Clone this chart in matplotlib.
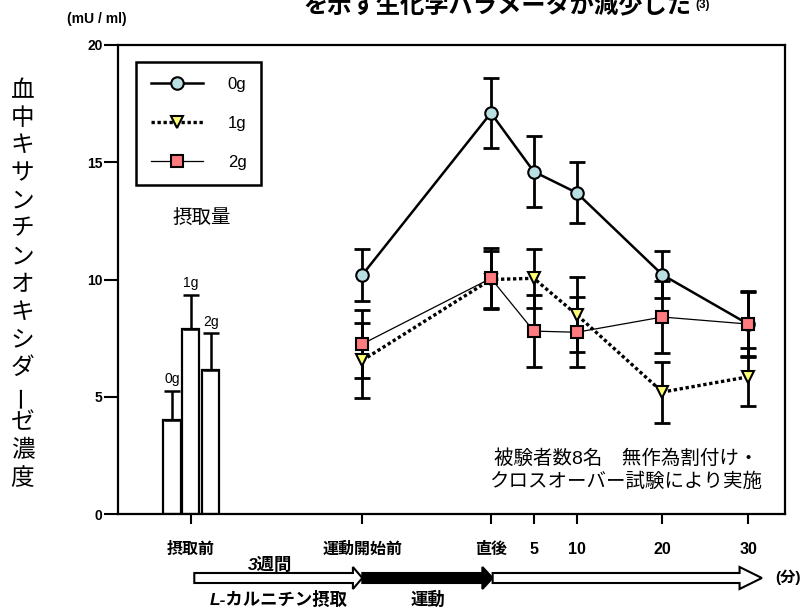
import matplotlib
matplotlib.use('Agg')
import matplotlib.pyplot as plt
import matplotlib.transforms as mtransforms
from matplotlib.lines import Line2D
from matplotlib.patches import Polygon

plt.rcParams['font.family'] = ['Liberation Sans', 'Noto Sans CJK JP', 'DejaVu Sans']

# sampling times (min, exercise ends at 0); -15 = before exercise
times = [-15, 0, 5, 10, 20, 30]
time_labels = ['運動開始前', '直後', '5', '10', '20', '30']

mean_0g = [10.2, 17.1, 14.6, 13.7, 10.2, 8.1]
sd_0g = [1.1, 1.5, 1.5, 1.3, 1.0, 1.4]
mean_1g = [6.55, 10.0, 10.05, 8.5, 5.2, 5.85]
sd_1g = [1.6, 1.2, 1.27, 1.6, 1.3, 1.25]
mean_2g = [7.25, 10.05, 7.8, 7.75, 8.4, 8.1]
sd_2g = [1.45, 1.3, 1.55, 1.5, 1.55, 1.35]

# baseline (before intake) bars
pre_x = -35
pre_label = '摂取前'
bar_labels = ['0g', '1g', '2g']
bar_means = [4.0, 7.9, 6.15]
bar_err = [1.25, 1.45, 1.55]
bar_offsets = [-2.2, 0.0, 2.3]

dose_labels = ['0g', '1g', '2g']

fig = plt.figure(figsize=(8.06, 6.09), dpi=100)
ax = fig.add_axes([118/806, 1-514/609, 667/806, 469/609])

# bars first, then error bars on top (upper half only)
for off, m, e, lab in zip(bar_offsets, bar_means, bar_err, bar_labels):
    ax.bar(pre_x + off, m, width=2.0, color='white', edgecolor='black', linewidth=1.6, zorder=2)
    ax.errorbar(pre_x + off, m, yerr=[[0], [e]], fmt='none', ecolor='black',
                elinewidth=1.8, capsize=6, capthick=1.8, zorder=3)
    ax.text(pre_x + off, m + e + 0.2, lab, ha='center', va='bottom', fontsize=10)

styles = [
    dict(mean=mean_0g, sd=sd_0g, ls='-', lw=1.8, marker='o', mfc='#b9dfe2', ms=9),
    dict(mean=mean_1g, sd=sd_1g, ls=(0, (1, 0.8)), lw=2.4, marker='v', mfc='#ffff73', ms=9),
    dict(mean=mean_2g, sd=sd_2g, ls='-', lw=0.9, marker='s', mfc='#ff7b7f', ms=8.5),
]
handles = []
for st, lab in zip(styles, dose_labels):
    ax.errorbar(times, st['mean'], yerr=st['sd'], fmt='none', ecolor='black',
                elinewidth=2, capsize=6, capthick=2, zorder=3)
    ax.plot(times, st['mean'], color='black', ls=st['ls'], lw=st['lw'], zorder=4)
    ax.plot(times, st['mean'], ls='none', marker=st['marker'], ms=st['ms'],
            mfc=st['mfc'], mec='black', mew=1.5, zorder=5)
    handles.append(Line2D([], [], color='black', ls=st['ls'], lw=st['lw'],
                          marker=st['marker'], ms=st['ms'], mfc=st['mfc'],
                          mec='black', mew=1.5))

ax.set_xlim(-43.5, 34.3)
ax.set_ylim(0, 20)
ax.set_yticks([0, 5, 10, 15, 20])
ax.set_xticks([pre_x] + times)
ax.set_xticklabels([pre_label] + time_labels, fontweight='bold', fontsize=11.5)
for lab in ax.get_yticklabels():
    lab.set_fontweight('bold')
    lab.set_fontsize(10)
ax.tick_params(axis='y', length=10, width=1.5, pad=1)
ax.tick_params(axis='x', length=7, width=1.5, pad=13)
for sp in ax.spines.values():
    sp.set_linewidth(1.6)

leg = ax.legend(handles, dose_labels, loc='upper left', bbox_to_anchor=(0.027, 0.964),
                borderaxespad=0, fontsize=12, handlelength=3.1, handletextpad=1.5,
                labelspacing=1.45, borderpad=0.9, fancybox=False, framealpha=1)
leg.get_frame().set_edgecolor('black')
leg.get_frame().set_linewidth(1.8)
ax.text(0.1255, 0.629, '摂取量', transform=ax.transAxes, ha='center', va='center', fontsize=14)

ax.text(0.966, 0.094, '被験者数8名　無作為割付け・\nクロスオーバー試験により実施',
        transform=ax.transAxes, ha='right', va='center', fontsize=14,
        linespacing=1.3, multialignment='center')

# timeline arrows under the axis: data x, figure-pixel y
tr = mtransforms.blended_transform_factory(ax.transData, fig.transFigure)
def py(p):
    return 1 - p / 609

stages = [(-34.6, -15.0, 1.1, 'white'), (-15.0, 0.2, 1.2, 'black'), (0.2, 31.6, 2.6, 'white')]
for x0, x1, hl, fc in stages:
    pts = [(x0, py(573)), (x1 - hl, py(573)), (x1 - hl, py(567)), (x1, py(578)),
           (x1 - hl, py(589)), (x1 - hl, py(583)), (x0, py(583))]
    ax.add_patch(Polygon(pts, closed=True, transform=tr, facecolor=fc, edgecolor='black',
                         linewidth=1.5, clip_on=False, zorder=6))

ax.text(-25.8, py(565), '3週間', transform=tr, ha='center', va='center',
        fontsize=12.5, fontweight='bold', style='italic')
ax.text(-24.7, py(599), 'L-カルニチン摂取', transform=tr, ha='center', va='center',
        fontsize=12.5, fontweight='bold', style='italic')
ax.text(-7.4, py(599), '運動', transform=tr, ha='center', va='center',
        fontsize=12.5, fontweight='bold', style='italic')
fig.text(788/806, py(577), '(分)', ha='center', va='center', fontsize=11, fontweight='bold')

fig.text(97/806, py(19), '(mU / ml)', ha='center', va='center', fontsize=10, fontweight='bold')

fig.text(497/806, py(6), 'を示す生化学パラメータが減少した', ha='center', va='center',
         fontsize=17.5, fontweight='bold')
fig.text(703/806, py(5), '(3)', ha='center', va='center', fontsize=8.5, fontweight='bold')

ylabel = '血中キサンチンオキシダーゼ濃度'
for i, ch in enumerate(ylabel):
    fig.text(22.5/806, py(91 + 27.7*i), ch, ha='center', va='center', fontsize=17,
             rotation=90 if ch == 'ー' else 0)

fig.savefig('out.png', dpi=100)
